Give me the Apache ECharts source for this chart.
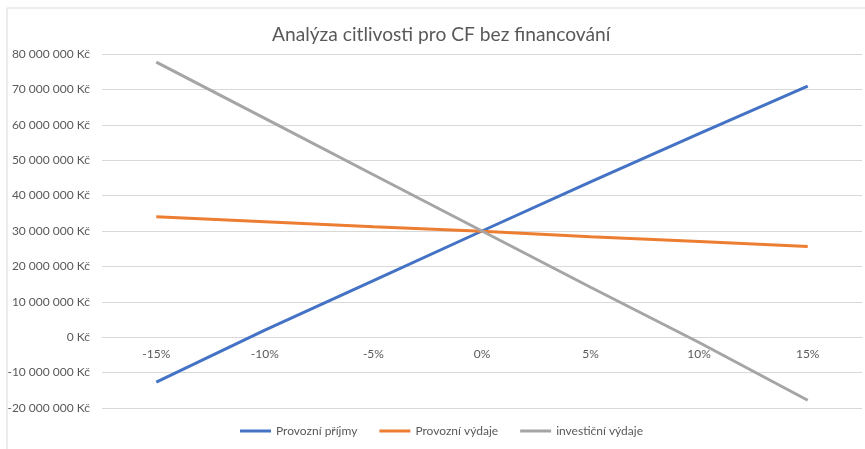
<!DOCTYPE html>
<html>
<head>
<meta charset="utf-8">
<script src="https://cdn.jsdelivr.net/npm/echarts@6/dist/echarts.min.js"></script>
<style>
  html, body { margin: 0; padding: 0; background: #fff; }
  #chart { width: 865px; height: 449px; }
</style>
</head>
<body>
<div id="chart"></div>
<script>
// Sensitivity chart: CF without financing, three lines crossing at 0 %.
var categories = ["-15%", "-10%", "-5%", "0%", "5%", "10%", "15%"];
var provozniPrijmy = [-12700000, 2000000, 16000000, 30000000, 43900000, 57500000, 70900000];
var provozniVydaje = [34000000, 32600000, 31200000, 29900000, 28400000, 27000000, 25600000];
var investicniVydaje = [77700000, 61800000, 45900000, 30000000, 14100000, -1500000, -17800000];
var seriesNames = ["Provozní příjmy", "Provozní výdaje", "investiční výdaje"];
var seriesColors = ["#4472C4", "#ED7D31", "#A5A5A5"];

function fmtKc(v) {
  var s = String(Math.abs(v)).replace(/\B(?=(\d{3})+(?!\d))/g, " ");
  return (v < 0 ? "-" : "") + s + " Kč";
}

(function () {
  var el = document.getElementById("chart");
  var chart = echarts.init(el, null, { renderer: "canvas" });
  var font = "Lato, 'Open Sans', sans-serif";
  var values = [provozniPrijmy, provozniVydaje, investicniVydaje];

  chart.setOption({
    backgroundColor: "#ffffff",
    animation: false,
    textStyle: { fontFamily: font },
    title: {
      text: "Analýza citlivosti pro CF bez financování",
      left: 267,
      top: 20,
      textStyle: { fontFamily: font, fontSize: 19.2, fontWeight: "normal", color: "#595959" }
    },
    graphic: [{
      type: "rect",
      shape: { x: 7, y: 8, width: 900, height: 500 },
      style: { fill: "none", stroke: "#d9d9d9", lineWidth: 1 },
      silent: true
    }],
    legend: {
      bottom: 7,
      left: 235,
      icon: "rect",
      itemWidth: 31,
      itemHeight: 3,
      itemGap: 22,
      textStyle: { fontFamily: font, fontSize: 12, color: "#595959" },
      data: seriesNames
    },
    grid: { left: 102, right: 3, top: 54, bottom: 41, containLabel: false },
    xAxis: {
      type: "category",
      data: categories,
      boundaryGap: true,
      position: "bottom",
      offset: -71,   // sits on the 0 Kč line, like Excel's crossing axis
      axisLine: { onZero: false, lineStyle: { color: "#d9d9d9" } },
      axisTick: { show: false },
      axisLabel: { fontFamily: font, fontSize: 12, color: "#595959", margin: 11 },
      splitLine: { show: false }
    },
    yAxis: {
      type: "value",
      min: -20000000,
      max: 80000000,
      interval: 10000000,
      axisLine: { show: false },
      axisTick: { show: false },
      axisLabel: {
        fontFamily: font, fontSize: 12, color: "#595959", margin: 12,
        formatter: fmtKc
      },
      splitLine: { lineStyle: { color: "#d9d9d9", width: 1 } }
    },
    series: seriesNames.map(function (name, i) {
      return {
        name: name,
        type: "line",
        data: values[i],
        showSymbol: false,
        symbol: "none",
        lineStyle: { width: 3, color: seriesColors[i] },
        itemStyle: { color: seriesColors[i] }
      };
    })
  });
})();
</script>
</body>
</html>
